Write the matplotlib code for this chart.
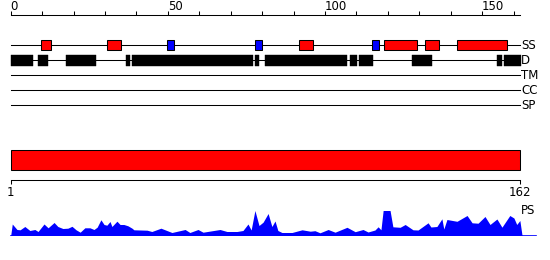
import matplotlib
matplotlib.use("Agg")
import matplotlib.pyplot as plt

# sequence length and top ruler
seq_len = 162
ruler_ticks = list(range(0, 161, 10))
ruler_labels = [0, 50, 100, 150]

# secondary structure (SS) elements: start, end, type (H = helix, E = strand)
ss_start = [9.7, 30.7, 49.8, 77.8, 91.8, 115.0, 118.9, 131.9, 142.1]
ss_end = [12.7, 35.0, 51.9, 79.9, 96.1, 117.1, 129.2, 136.2, 158.0]
ss_type = ["H", "H", "E", "E", "H", "E", "H", "H", "H"]

# disorder (D) segments
d_start = [0, 8.7, 17.6, 36.7, 38.7, 77.7, 80.9, 108.0, 110.8, 127.7, 154.7, 157.0]
d_end = [7.0, 11.8, 27.1, 37.9, 77.0, 79.0, 106.9, 110.2, 115.2, 133.9, 156.3, 162.3]

track_names = ["SS", "D", "TM", "CC", "SP"]

# PS profile (position along sequence, score)
ps_pos = [0, 0.5, 2, 3, 4.5, 6.1, 7.7, 8.7, 10.6, 11.9, 13.8, 15, 16.6, 18.2, 19.5,
          20.8, 22.1, 23.6, 25.2, 26.5, 27.5, 28.7, 29.7, 30.6, 31.6, 32.2, 33.8,
          34.8, 36, 37.3, 38.6, 39.2, 43.4, 44.9, 47.8, 51.3, 55.5, 57, 59.6, 61.2,
          66.6, 68.8, 72, 73.9, 75.5, 76.5, 77.7, 79, 80.3, 81.9, 83.1, 84.1, 85,
          86.3, 89.5, 92.7, 95.3, 96.8, 98.4, 101, 103.2, 107, 109.6, 112.1, 113.7,
          115.9, 116.9, 117.8, 118.5, 120.7, 121.6, 123.9, 125.5, 128, 129.6, 132.8,
          133.7, 135.6, 137.2, 137.8, 138.8, 142, 145.2, 146.8, 148.7, 150.9, 152.5,
          154.7, 156.3, 158.8, 160.1, 161, 162, 162.7]
ps_score = [0, 11.5, 6, 5.7, 9, 5, 6, 4, 11.5, 7.7, 13, 9, 7, 7.3, 9.2,
            5.7, 3.3, 7.7, 7.7, 6, 8.3, 15.7, 11, 10.3, 14, 9, 14.3,
            11, 11, 9.7, 7.3, 5.7, 5.3, 4, 7.3, 3, 6, 3, 6, 3.3,
            6, 4, 4, 5, 11.5, 5.5, 25, 10, 13.3, 22, 9, 14.5, 5,
            3, 3, 5.7, 4.3, 4.8, 2.7, 6, 3.3, 8.2, 3.8, 6, 3.5,
            5.5, 8.7, 5.7, 25, 25, 8.7, 8.2, 11, 5.7, 5.5, 12.7,
            8.5, 9, 16.7, 6.5, 16, 14.2, 20, 12.7, 12.3, 19, 11,
            16.5, 8.3, 20, 17.5, 11, 15, 0]

px = 1 / 100  # one pixel in inches at dpi 100
lw = 0.75

fig = plt.figure(figsize=(5.5, 2.6), dpi=100)
ax = fig.add_axes([0, 0, 1, 1])
# x in residues, y in rows (pixels from top)
ax.set_xlim(-10.7 / 3.143, (550 - 10.7) / 3.143)
ax.set_ylim(260, 0)
ax.axis("off")

# top ruler
ax.plot([0, seq_len], [14.7, 14.7], color="black", lw=lw)
ax.vlines(ruler_ticks, 10.7, 14.7, color="black", lw=lw)
for t in ruler_labels:
    ax.text(t, 10.5, str(t), ha="left", va="baseline", fontsize=8.5)

# feature tracks
rows = [45.3, 60.3, 75.3, 90.3, 105.3]
for name, y in zip(track_names, rows):
    ax.plot([0, seq_len], [y, y], color="black", lw=lw, zorder=1)
    ax.text(seq_len + 0.4, y, name, ha="left", va="center", fontsize=8.5)

ss_colors = ["#ff0000" if t == "H" else "#0000ff" for t in ss_type]
ax.barh([rows[0]] * len(ss_start), [e - s for s, e in zip(ss_start, ss_end)],
        left=ss_start, height=10, color=ss_colors, edgecolor="black",
        linewidth=lw, zorder=2)
ax.barh([rows[1]] * len(d_start), [e - s for s, e in zip(d_start, d_end)],
        left=d_start, height=10.5, color="black", edgecolor="black",
        linewidth=0.3, zorder=2)

# full-length domain bar
ax.barh([160.3], [seq_len], left=[0], height=20, color="#ff0000",
        edgecolor="black", linewidth=lw)

# bottom scale
ax.plot([0, seq_len], [180.3, 180.3], color="black", lw=lw)
ax.vlines([0, seq_len], 180.3, 184.3, color="black", lw=lw)
ax.text(0, 192, "1", ha="center", va="center", fontsize=8.5)
ax.text(seq_len, 192, str(seq_len), ha="center", va="center", fontsize=8.5)
ax.text(seq_len + 0.4, 211, "PS", ha="left", va="center", fontsize=8.5)

# PS profile in its own axes, baseline at y = 235 px
ax_ps = fig.add_axes([0, (260 - 235.5) / 260, 1, 30 / 260])
ax_ps.set_xlim(ax.get_xlim())
ax_ps.set_ylim(0, 30)
ax_ps.axis("off")
ax_ps.fill_between(ps_pos, 0, ps_score, color="#0000ff", lw=0)
ax_ps.plot([0, 167], [0, 0], color="#0000ff", lw=1.2)

fig.savefig("out.png", dpi=100)
